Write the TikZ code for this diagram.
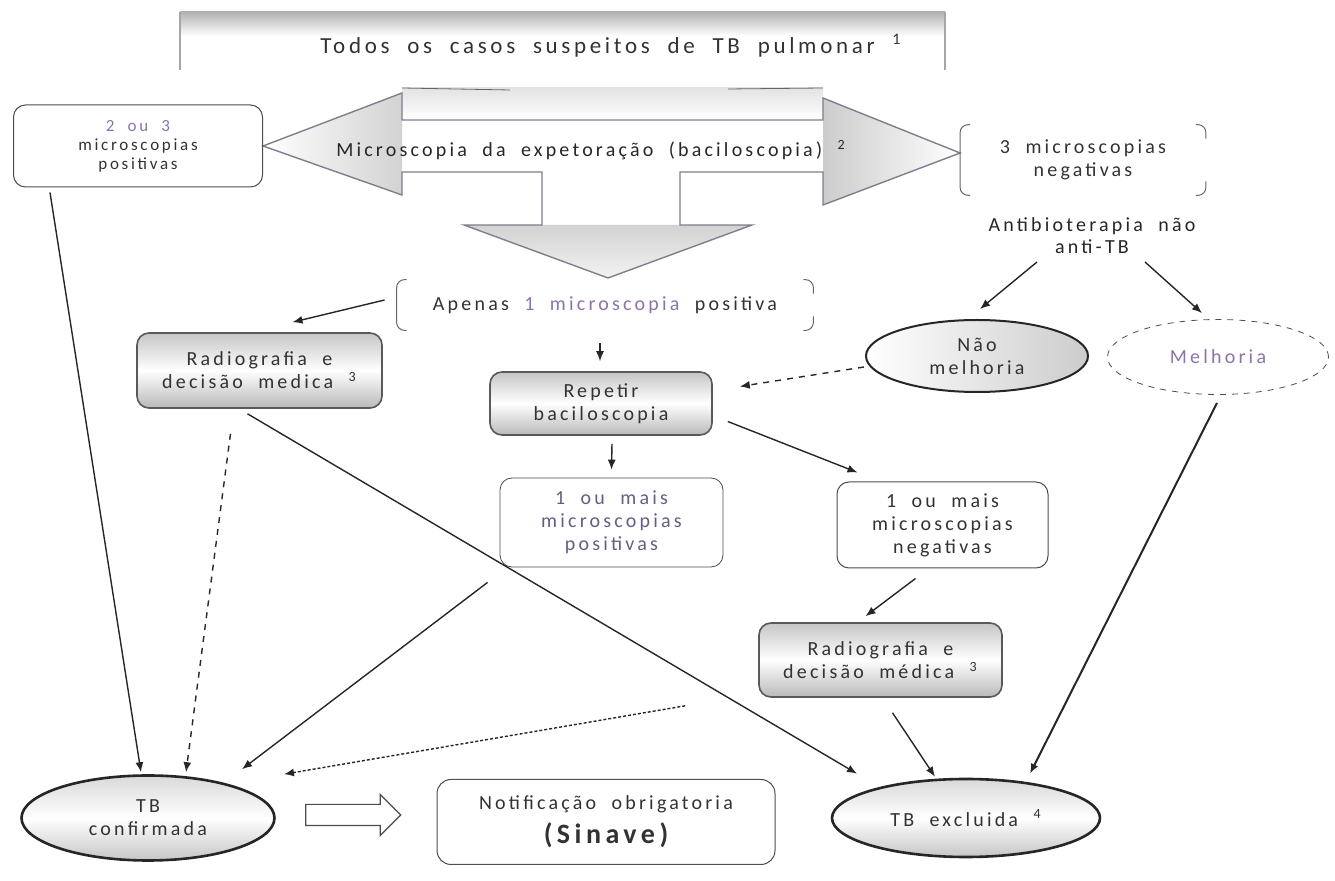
\documentclass[tikz,border=0pt]{standalone}
\usepackage{fontspec}
\setmainfont{Carlito}[LetterSpace=16,WordSpace=2]
\usetikzlibrary{arrows.meta,calc,backgrounds,shapes.geometric,shapes.arrows}

\definecolor{ink}{RGB}{50,50,50}
\definecolor{lilac}{RGB}{140,115,170}
\definecolor{plum}{RGB}{105,92,130}
\definecolor{rim}{RGB}{130,125,140}

\tikzset{
	txt/.style={align=center, inner sep=0pt, text=ink, font=\fontsize{10}{11.5}\selectfont},
	box/.style={txt, draw=black!70, line width=0.5pt, rounded corners=6pt},
	gloss/.style={box, draw=black!65, line width=0.8pt, top color=gray!45, bottom color=gray!55, middle color=white},
	oval/.style={txt, ellipse, draw=black!85, line width=1.3pt, top color=gray!30, bottom color=gray!45, middle color=white},
	arr/.style={->, black!85, line width=0.7pt},
	bracket/.style={black!60, line width=0.5pt, rounded corners=4pt}
}

\begin{document}
\begin{tikzpicture}[x=0.5pt, y=-0.5pt, >={Latex[length=5pt,width=4pt]}]
	\useasboundingbox (0,0) rectangle (1335,881);

	% banner
	\shade[top color=gray!60, bottom color=white] (180,12) rectangle (945,36);
	\draw[gray!70, line width=0.8pt] (180,12) -- (180,70);
	\draw[gray!70, line width=0.8pt] (945,12) -- (945,70);
	\node[txt, font=\fontsize{11.5}{14}\selectfont] (suspeitos) at (611,46) {Todos os casos suspeitos de TB pulmonar \textsuperscript{1}};

	\node[box, minimum width=124.5pt, minimum height=41pt, font=\fontsize{8.5}{9.5}\selectfont] (pos3) at (138,146) {\textcolor{lilac}{2 ou 3}\\microscopias\\positivas};
	\node[txt, minimum width=122.5pt, minimum height=35pt] (neg3) at (1083,160) {3 microscopias\\negativas};
	\node[txt, text=black!85] (micro) at (591,150) {Microscopia da expetoração (baciloscopia) \textsuperscript{2}};
	\node[txt, text=black!85, font=\fontsize{10}{11}\selectfont] (anti) at (1092,236) {Antibioterapia não\\anti-TB};
	\node[txt, minimum width=208pt, minimum height=25pt] (apenas) at (605,305) {Apenas \textcolor{lilac}{1 microscopia} positiva};
	\node[gloss, minimum width=122.5pt, minimum height=37.5pt] (radA) at (259.5,370.5) {Radiografia e\\decisão medica \textsuperscript{3}};
	\node[gloss, minimum width=111pt, minimum height=31.5pt] (repetir) at (601,403.5) {Repetir\\baciloscopia};
	\node[txt, ellipse, draw=black!85, line width=1pt, left color=white, right color=gray!40, minimum width=111pt, minimum height=36pt] (naomel) at (977,356) {Não\\melhoria};
	\node[txt, ellipse, draw=black!70, dashed, minimum width=110.5pt, minimum height=37.5pt, text=lilac] (melh) at (1218,357) {Melhoria};
	\node[box, minimum width=111.5pt, minimum height=44.5pt, text=plum, line width=0.4pt] (posmais) at (611.5,522.5) {1 ou mais\\microscopias\\positivas};
	\node[box, minimum width=105.5pt, minimum height=43pt] (negmais) at (942.5,525) {1 ou mais\\microscopias\\negativas};
	\node[gloss, minimum width=121.5pt, minimum height=37pt] (radB) at (880.5,660) {Radiografia e\\decisão médica \textsuperscript{3}};
	\node[oval, minimum width=126.5pt, minimum height=42.5pt] (tbconf) at (148,818) {TB\\confirmada};
	\node[box, minimum width=169pt, minimum height=42.5pt, rounded corners=7pt] (notif) at (606,822) {Notificação obrigatoria\\[4pt]{\fontsize{14}{15}\selectfont\bfseries (Sinave)}};
	\node[oval, minimum width=134pt, minimum height=39pt] (tbexc) at (966,818) {TB excluida \textsuperscript{4}};
	\node[single arrow, draw=black!70, line width=0.6pt, fill=white, minimum height=47.5pt, minimum width=20pt, single arrow head extend=5pt, inner sep=5pt] (blk) at (348,815) {};

	\begin{scope}[on background layer]
		\shade[top color=gray!22, bottom color=white] (402,88) rectangle (823,120);
		\draw[black!60] (402,88) -- (510,90);
		\draw[black!60] (728,89) -- (823,88);
		\shade[left color=white, right color=gray!35] (pos3.east) -- (402,93) -- (402,195) -- cycle;
		\shade[left color=gray!40, right color=white] (823,98) -- ($(neg3.west)+(0,-7)$) -- (823,205) -- cycle;
		\shade[top color=gray!35, bottom color=gray!10] (464,225) -- (752,225) -- (608,278) -- cycle;
		\draw[rim, line width=0.7pt] (pos3.east) -- (402,93) -- (402,120) -- (823,120) -- (823,98) -- ($(neg3.west)+(0,-7)$) -- (823,205) -- (823,172) -- (680,172) -- (680,225) -- (752,225) -- (608,278) -- (464,225) -- (542,225) -- (542,172) -- (402,172) -- (402,195) -- cycle;
	\end{scope}

	\draw[bracket] ($(neg3.north west)+(10,0)$) -- (neg3.north west) -- (neg3.south west) -- ($(neg3.south west)+(10,0)$);
	\draw[bracket] ($(neg3.north east)+(-10,0)$) -- (neg3.north east) -- ($(neg3.north east)+(0,14)$);
	\draw[bracket] ($(neg3.south east)+(-10,0)$) -- (neg3.south east) -- ($(neg3.south east)+(0,-14)$);
	\draw[bracket] ($(apenas.north west)+(10,0)$) -- (apenas.north west) -- (apenas.south west) -- ($(apenas.south west)+(10,0)$);
	\draw[bracket] ($(apenas.north east)+(-10,0)$) -- (apenas.north east) -- ($(apenas.north east)+(0,14)$);
	\draw[bracket] ($(apenas.south east)+(-10,0)$) -- (apenas.south east) -- ($(apenas.south east)+(0,-14)$);

	\draw[arr] ($(apenas.west)+(-12,-5)$) -- ($(radA.north)+(33,-10)$);
	\draw[arr] ($(apenas.south)+(-5,13)$) -- ($(repetir.north)+(-1,-10)$);
	\draw[arr, dashed] ($(naomel.west)+(-1,11)$) -- ($(repetir.east)+(27,-17)$);
	\draw[arr] ($(anti)+(-55,26)$) -- ($(naomel.north)+(3,-10)$);
	\draw[arr] ($(anti)+(53,26)$) -- ($(melh.north)+(-16,-6)$);
	\draw[arr] ($(pos3.south west)+(37,5)$) -- ($(tbconf.north)+(-7,-2)$);
	\draw[arr, dashed] ($(radA.south)+(-29,25)$) -- ($(tbconf.north)+(38,-2)$);
	\draw[arr] ($(radA.south)+(-12,5)$) -- ($(tbexc.north)+(-109,-4)$);
	\draw[arr] ($(posmais.south west)+(-12,15)$) -- ($(tbconf.north)+(94,-5)$);
	\draw[arr, dash pattern=on 1.5pt off 1pt] ($(radB.south west)+(-73,8)$) -- ($(tbconf.north)+(136,0)$);
	\draw[arr] ($(repetir.east)+(15,18)$) -- ($(negmais.north west)+(21,-9)$);
	\draw[arr] ($(repetir.south)+(11,8)$) -- ($(posmais.north)+(0,-8)$);
	\draw[arr] ($(negmais.south)+(-27,10)$) -- ($(radB.north)+(-15,-6)$);
	\draw[arr] ($(radB.south)+(12,15)$) -- ($(tbexc.north)+(-31,-1)$);
	\draw[arr, line width=1pt] ($(melh.south)+(-1,8)$) -- ($(tbexc.north)+(64,-4)$);
\end{tikzpicture}
\end{document}
